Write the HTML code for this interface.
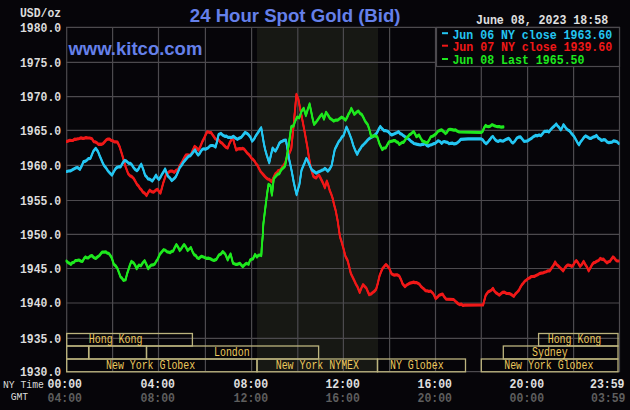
<!DOCTYPE html>
<html><head><meta charset="utf-8"><style>
html,body{margin:0;padding:0;background:#060509;width:630px;height:410px;overflow:hidden}
svg{display:block}
.sm{font-family:"Liberation Mono",monospace;font-size:11.5px}
.xb{font-family:"Liberation Mono",monospace;font-size:12.2px;font-weight:bold}
.mb{font-family:"Liberation Mono",monospace;font-size:13px;font-weight:bold}
.s{font-family:"Liberation Mono",monospace;font-size:12px}
.t{font-family:"Liberation Sans",sans-serif;font-size:18.6px;font-weight:bold}
.k{font-family:"Liberation Sans",sans-serif;font-size:18.5px;font-weight:bold}
</style></head><body>
<svg width="630" height="410" viewBox="0 0 630 410">
<rect x="257" y="27" width="121" height="345" fill="#171814"/>
<line x1="66.7" y1="27" x2="66.7" y2="372" stroke="#4c4a4e" stroke-width="1.2"/>
<line x1="112.6" y1="27" x2="112.6" y2="372" stroke="#4c4a4e" stroke-width="1.2"/>
<line x1="158.5" y1="27" x2="158.5" y2="372" stroke="#4c4a4e" stroke-width="1.2"/>
<line x1="205.4" y1="27" x2="205.4" y2="372" stroke="#4c4a4e" stroke-width="1.2"/>
<line x1="251.6" y1="27" x2="251.6" y2="372" stroke="#4c4a4e" stroke-width="1.2"/>
<line x1="297.8" y1="27" x2="297.8" y2="372" stroke="#4c4a4e" stroke-width="1.2"/>
<line x1="343.4" y1="27" x2="343.4" y2="372" stroke="#4c4a4e" stroke-width="1.2"/>
<line x1="389.6" y1="27" x2="389.6" y2="372" stroke="#4c4a4e" stroke-width="1.2"/>
<line x1="435.5" y1="27" x2="435.5" y2="372" stroke="#4c4a4e" stroke-width="1.2"/>
<line x1="481.3" y1="27" x2="481.3" y2="372" stroke="#4c4a4e" stroke-width="1.2"/>
<line x1="527.6" y1="27" x2="527.6" y2="372" stroke="#4c4a4e" stroke-width="1.2"/>
<line x1="573.6" y1="27" x2="573.6" y2="372" stroke="#4c4a4e" stroke-width="1.2"/>
<line x1="619.5" y1="27" x2="619.5" y2="372" stroke="#4c4a4e" stroke-width="1.2"/>
<line x1="66" y1="27.4" x2="620" y2="27.4" stroke="#4c4a4e" stroke-width="1.2"/>
<line x1="66" y1="62.3" x2="620" y2="62.3" stroke="#4c4a4e" stroke-width="1.2"/>
<line x1="66" y1="96.6" x2="620" y2="96.6" stroke="#4c4a4e" stroke-width="1.2"/>
<line x1="66" y1="130.4" x2="620" y2="130.4" stroke="#4c4a4e" stroke-width="1.2"/>
<line x1="66" y1="165.3" x2="620" y2="165.3" stroke="#4c4a4e" stroke-width="1.2"/>
<line x1="66" y1="200.5" x2="620" y2="200.5" stroke="#4c4a4e" stroke-width="1.2"/>
<line x1="66" y1="234.3" x2="620" y2="234.3" stroke="#4c4a4e" stroke-width="1.2"/>
<line x1="66" y1="268.5" x2="620" y2="268.5" stroke="#4c4a4e" stroke-width="1.2"/>
<line x1="66" y1="303.0" x2="620" y2="303.0" stroke="#4c4a4e" stroke-width="1.2"/>
<line x1="66" y1="338.3" x2="620" y2="338.3" stroke="#4c4a4e" stroke-width="1.2"/>
<line x1="66" y1="371.7" x2="620" y2="371.7" stroke="#4c4a4e" stroke-width="1.2"/>
<text x="20.0" y="17.0" class="mb" fill="#dcdcdc" textLength="41.1" lengthAdjust="spacingAndGlyphs" xml:space="preserve">USD/oz</text>
<text x="20.0" y="31.6" class="mb" fill="#dcdcdc" textLength="41.1" lengthAdjust="spacingAndGlyphs" xml:space="preserve">1980.0</text>
<text x="20.0" y="66.5" class="mb" fill="#dcdcdc" textLength="41.1" lengthAdjust="spacingAndGlyphs" xml:space="preserve">1975.0</text>
<text x="20.0" y="100.8" class="mb" fill="#dcdcdc" textLength="41.1" lengthAdjust="spacingAndGlyphs" xml:space="preserve">1970.0</text>
<text x="20.0" y="134.6" class="mb" fill="#dcdcdc" textLength="41.1" lengthAdjust="spacingAndGlyphs" xml:space="preserve">1965.0</text>
<text x="20.0" y="169.5" class="mb" fill="#dcdcdc" textLength="41.1" lengthAdjust="spacingAndGlyphs" xml:space="preserve">1960.0</text>
<text x="20.0" y="204.7" class="mb" fill="#dcdcdc" textLength="41.1" lengthAdjust="spacingAndGlyphs" xml:space="preserve">1955.0</text>
<text x="20.0" y="238.5" class="mb" fill="#dcdcdc" textLength="41.1" lengthAdjust="spacingAndGlyphs" xml:space="preserve">1950.0</text>
<text x="20.0" y="272.7" class="mb" fill="#dcdcdc" textLength="41.1" lengthAdjust="spacingAndGlyphs" xml:space="preserve">1945.0</text>
<text x="20.0" y="307.2" class="mb" fill="#dcdcdc" textLength="41.1" lengthAdjust="spacingAndGlyphs" xml:space="preserve">1940.0</text>
<text x="20.0" y="342.5" class="mb" fill="#dcdcdc" textLength="41.1" lengthAdjust="spacingAndGlyphs" xml:space="preserve">1935.0</text>
<text x="20.0" y="375.9" class="mb" fill="#dcdcdc" textLength="41.1" lengthAdjust="spacingAndGlyphs" xml:space="preserve">1930.0</text>
<text x="47.5" y="388.0" class="xb" fill="#e0e0e0" textLength="34.5" lengthAdjust="spacingAndGlyphs" xml:space="preserve">00:00</text>
<text x="47.5" y="401.8" class="xb" fill="#5e5e5e" textLength="34.5" lengthAdjust="spacingAndGlyphs" xml:space="preserve">04:00</text>
<text x="140.5" y="388.0" class="xb" fill="#e0e0e0" textLength="34.5" lengthAdjust="spacingAndGlyphs" xml:space="preserve">04:00</text>
<text x="140.5" y="401.8" class="xb" fill="#5e5e5e" textLength="34.5" lengthAdjust="spacingAndGlyphs" xml:space="preserve">08:00</text>
<text x="233.6" y="388.0" class="xb" fill="#e0e0e0" textLength="34.5" lengthAdjust="spacingAndGlyphs" xml:space="preserve">08:00</text>
<text x="233.6" y="401.8" class="xb" fill="#5e5e5e" textLength="34.5" lengthAdjust="spacingAndGlyphs" xml:space="preserve">12:00</text>
<text x="325.4" y="388.0" class="xb" fill="#e0e0e0" textLength="34.5" lengthAdjust="spacingAndGlyphs" xml:space="preserve">12:00</text>
<text x="325.4" y="401.8" class="xb" fill="#5e5e5e" textLength="34.5" lengthAdjust="spacingAndGlyphs" xml:space="preserve">16:00</text>
<text x="417.5" y="388.0" class="xb" fill="#e0e0e0" textLength="34.5" lengthAdjust="spacingAndGlyphs" xml:space="preserve">16:00</text>
<text x="417.5" y="401.8" class="xb" fill="#5e5e5e" textLength="34.5" lengthAdjust="spacingAndGlyphs" xml:space="preserve">20:00</text>
<text x="509.6" y="388.0" class="xb" fill="#e0e0e0" textLength="34.5" lengthAdjust="spacingAndGlyphs" xml:space="preserve">20:00</text>
<text x="509.6" y="401.8" class="xb" fill="#5e5e5e" textLength="34.5" lengthAdjust="spacingAndGlyphs" xml:space="preserve">00:00</text>
<text x="590.0" y="388.0" class="xb" fill="#e0e0e0" textLength="34.5" lengthAdjust="spacingAndGlyphs" xml:space="preserve">23:59</text>
<text x="591.0" y="401.8" class="xb" fill="#5e5e5e" textLength="34.5" lengthAdjust="spacingAndGlyphs" xml:space="preserve">03:59</text>
<text x="3.0" y="388.0" class="sm" fill="#dcdcdc" textLength="40.9" lengthAdjust="spacingAndGlyphs" xml:space="preserve">NY Time</text>
<text x="10.7" y="400.0" class="sm" fill="#dcdcdc" textLength="17.5" lengthAdjust="spacingAndGlyphs" xml:space="preserve">GMT</text>
<rect x="66.7" y="333.5" width="125.7" height="12.5" fill="none" stroke="#bcb47e" stroke-width="1.3"/>
<rect x="538.6" y="333.5" width="79.39999999999998" height="12.5" fill="none" stroke="#bcb47e" stroke-width="1.3"/>
<rect x="66.7" y="346" width="21.89999999999999" height="13" fill="none" stroke="#bcb47e" stroke-width="1.3"/>
<rect x="88.9" y="346" width="57.599999999999994" height="13" fill="none" stroke="#bcb47e" stroke-width="1.3"/>
<rect x="146.5" y="346" width="172.10000000000002" height="13" fill="none" stroke="#bcb47e" stroke-width="1.3"/>
<rect x="503.3" y="346" width="114.69999999999999" height="13" fill="none" stroke="#bcb47e" stroke-width="1.3"/>
<rect x="66.7" y="359" width="190.3" height="12.800000000000011" fill="none" stroke="#bcb47e" stroke-width="1.3"/>
<rect x="257" y="359" width="120.5" height="12.800000000000011" fill="none" stroke="#bcb47e" stroke-width="1.3"/>
<rect x="377.5" y="359" width="88.0" height="12.800000000000011" fill="none" stroke="#bcb47e" stroke-width="1.3"/>
<rect x="481.3" y="359" width="136.7" height="12.800000000000011" fill="none" stroke="#bcb47e" stroke-width="1.3"/>
<text x="88.8" y="343.0" class="s" fill="#ecc85c" textLength="53.6" lengthAdjust="spacingAndGlyphs" xml:space="preserve">Hong Kong</text>
<text x="547.7" y="343.0" class="s" fill="#ecc85c" textLength="53.6" lengthAdjust="spacingAndGlyphs" xml:space="preserve">Hong Kong</text>
<text x="214.0" y="356.2" class="s" fill="#ecc85c" textLength="35.7" lengthAdjust="spacingAndGlyphs" xml:space="preserve">London</text>
<text x="532.0" y="356.2" class="s" fill="#ecc85c" textLength="35.7" lengthAdjust="spacingAndGlyphs" xml:space="preserve">Sydney</text>
<text x="106.0" y="369.0" class="s" fill="#ecc85c" textLength="89.2" lengthAdjust="spacingAndGlyphs" xml:space="preserve">New York Globex</text>
<text x="275.7" y="369.0" class="s" fill="#ecc85c" textLength="83.3" lengthAdjust="spacingAndGlyphs" xml:space="preserve">New York NYMEX</text>
<text x="390.0" y="369.0" class="s" fill="#ecc85c" textLength="53.6" lengthAdjust="spacingAndGlyphs" xml:space="preserve">NY Globex</text>
<text x="504.2" y="369.0" class="s" fill="#ecc85c" textLength="89.2" lengthAdjust="spacingAndGlyphs" xml:space="preserve">New York Globex</text>
<polyline id="lr" points="66.8,141.5 68.4,140.9 69.9,140.3 71.5,140.5 73.1,140.3 74.7,139.1 76.2,139.3 77.8,138.8 79.4,138.5 81.0,137.9 82.6,138.4 84.2,138.3 86.0,137.6 87.9,138.0 89.7,138.0 92.0,138.8 93.7,141.6 95.3,141.9 96.9,142.8 98.5,144.3 100.0,144.2 101.6,144.3 103.2,143.4 104.8,141.6 106.4,139.8 108.0,139.0 109.6,139.2 111.1,140.4 112.7,140.8 114.3,141.9 115.9,141.8 117.5,142.1 119.8,147.2 122.2,155.1 123.8,160.5 125.4,166.2 128.2,173.7 130.0,175.8 131.8,176.6 133.7,178.5 135.5,181.7 137.0,184.4 138.4,185.8 139.9,188.3 141.4,189.7 142.8,192.0 144.7,193.3 146.5,195.6 148.1,192.6 149.7,190.2 151.6,191.6 153.6,192.2 155.6,190.3 157.5,189.3 158.9,191.4 160.4,193.2 161.9,188.0 163.4,182.4 164.9,177.9 166.3,173.7 168.2,172.5 170.2,171.1 172.1,171.1 174.1,172.3 176.1,170.4 178.0,169.8 179.4,166.4 180.9,163.9 182.5,161.2 184.2,157.9 185.8,155.1 187.4,154.8 189.1,155.2 190.7,155.1 192.6,150.6 194.6,146.3 196.6,148.0 198.5,150.2 200.4,146.3 202.4,141.5 204.0,138.5 205.7,134.6 207.3,131.7 209.2,132.3 211.2,132.7 213.1,135.6 215.1,138.5 217.0,139.9 218.9,140.2 220.5,142.2 222.2,143.2 223.8,145.1 225.8,147.2 227.7,148.0 229.3,143.7 231.0,140.4 232.6,136.8 234.4,143.8 236.2,150.0 238.1,148.8 239.9,148.6 241.4,148.8 242.8,148.4 244.3,149.3 245.8,151.2 247.2,153.1 248.7,154.4 250.2,156.2 251.6,158.3 253.1,159.5 254.6,161.2 256.0,163.7 257.5,165.4 258.9,168.4 260.4,171.2 261.9,173.0 263.3,174.6 264.8,176.4 266.3,177.8 267.7,179.0 269.2,179.3 271.6,181.5 273.5,177.6 275.4,173.7 276.8,172.7 278.3,170.6 279.8,170.3 281.2,168.8 283.1,166.1 285.1,162.9 287.8,155.6 289.6,152.8 291.3,148.6 293.5,126.6 294.9,111.0 296.4,94.4 298.3,99.0 300.8,112.0 302.6,121.2 304.5,131.0 305.9,138.9 307.4,147.1 309.0,158.0 311.2,169.3 313.2,176.1 314.6,177.3 316.1,178.0 317.6,175.9 319.0,175.1 320.5,178.0 322.0,181.0 323.4,183.9 324.9,187.8 326.8,181.0 328.3,185.3 329.8,190.7 331.2,194.0 332.7,198.5 334.1,204.7 335.6,210.2 337.7,221.0 339.9,236.4 341.5,241.4 343.2,247.4 345.4,256.2 347.6,260.5 349.2,266.7 350.9,273.7 352.5,276.8 354.2,280.3 355.9,284.1 357.5,286.9 359.7,292.4 361.4,288.0 363.0,284.7 364.6,286.3 366.3,288.0 367.7,291.4 369.1,294.6 371.0,294.0 372.9,292.4 374.5,291.2 376.2,289.1 377.9,283.0 379.5,275.9 381.1,271.7 382.7,268.2 384.4,266.2 386.0,264.5 387.6,266.2 389.3,268.2 391.5,273.7 393.0,274.6 394.4,275.1 395.9,274.8 397.5,274.9 399.2,275.9 400.9,279.3 402.5,283.6 405.0,286.7 406.7,285.0 408.4,284.1 410.1,283.1 411.8,282.7 413.5,282.1 414.9,282.6 416.4,282.6 417.8,283.3 419.5,284.3 421.2,286.7 422.6,287.9 424.1,289.1 425.5,290.6 427.2,290.8 428.9,291.5 430.6,291.0 433.2,293.5 435.7,298.6 437.4,297.2 439.1,295.2 440.8,294.6 442.5,294.0 444.2,296.7 446.0,299.1 453.6,299.5 456.2,302.0 457.9,303.5 459.6,304.6 461.3,304.1 463.0,305.5 464.7,305.1 483.1,305.0 485.7,295.2 488.2,291.8 489.8,291.1 491.4,290.1 493.0,288.4 494.4,291.0 495.9,292.7 497.6,293.8 499.3,295.2 501.0,293.6 502.7,292.3 504.4,292.1 506.2,293.3 507.9,293.5 509.4,293.6 510.8,294.3 512.3,295.3 513.8,296.4 515.5,293.8 517.3,292.0 519.0,290.1 520.4,287.2 521.8,284.9 523.2,283.3 524.9,281.1 526.6,279.9 528.1,278.5 529.6,278.0 531.1,276.7 532.6,276.5 534.3,276.4 536.0,275.5 537.7,274.7 539.4,273.6 541.1,273.2 542.8,273.0 544.5,272.2 546.2,271.7 548.0,270.8 549.7,270.8 552.2,267.2 553.7,265.1 555.1,262.0 556.5,264.5 558.0,265.7 559.7,267.4 561.5,269.1 563.2,270.8 564.6,268.3 566.1,266.4 567.5,265.0 569.0,265.2 570.4,265.6 571.9,266.4 573.4,264.9 574.8,262.1 576.3,260.6 578.1,262.8 580.0,266.4 581.8,264.5 583.6,261.3 585.3,264.5 587.0,267.1 588.7,270.8 590.5,267.6 592.4,264.2 593.9,262.6 595.3,262.3 596.8,261.3 598.6,260.5 600.4,258.4 601.9,259.3 603.4,259.1 605.2,261.2 607.0,262.8 608.5,261.7 610.0,261.3 611.5,258.9 612.9,256.9 614.3,258.0 615.8,260.1 617.2,260.9 618.7,261.0" fill="none" stroke="#f01818" stroke-width="1.7" stroke-linejoin="round" stroke-linecap="round"/>
<use href="#lr" transform="translate(0,-0.75)"/>
<use href="#lr" transform="translate(0,0.75)"/>
<polyline id="lc" points="66.8,171.5 68.5,171.0 70.3,170.9 72.0,170.0 73.8,168.9 75.7,167.9 77.5,167.5 79.9,169.4 81.7,166.0 83.5,161.7 85.1,161.4 86.8,160.2 88.4,158.7 90.5,158.3 93.3,151.3 95.7,148.3 98.0,151.5 99.5,155.4 101.0,158.9 102.5,162.3 104.0,165.5 106.0,167.9 108.0,171.0 110.0,173.1 112.0,175.1 113.8,171.6 115.7,168.5 117.3,167.3 119.0,166.7 120.6,166.8 122.5,163.3 124.5,160.5 126.0,160.9 127.5,162.2 128.9,163.3 130.4,163.4 132.1,165.2 133.7,167.7 135.3,169.6 137.0,170.7 138.4,169.2 139.9,166.2 141.3,164.2 143.2,169.3 145.0,175.1 146.4,176.6 147.9,178.8 149.4,179.1 150.8,179.9 152.3,181.0 154.2,178.2 156.0,175.1 157.4,177.9 158.9,179.5 160.4,177.3 162.0,174.2 163.6,171.8 165.1,168.9 166.6,173.0 168.0,176.2 169.8,177.8 171.7,180.6 173.2,179.4 174.6,178.2 176.1,176.2 177.9,172.2 179.8,167.5 181.6,165.3 183.4,162.3 185.2,160.1 187.1,157.9 188.6,156.2 190.0,155.9 191.5,154.3 193.3,151.9 195.1,149.9 196.6,152.9 198.1,155.0 199.6,153.7 201.0,151.0 202.5,149.2 204.0,148.8 205.4,149.3 206.9,148.4 208.3,147.7 209.8,146.0 211.2,145.5 212.7,145.5 214.1,146.0 215.6,147.0 217.1,141.3 218.6,134.5 220.9,133.4 222.9,135.3 224.8,136.3 226.4,136.1 228.0,137.4 229.6,137.3 231.6,137.5 233.5,136.3 235.4,138.0 237.4,139.3 239.4,138.1 241.3,137.3 243.2,134.9 245.2,132.4 247.1,133.4 249.1,135.4 250.6,137.6 252.1,141.2 254.1,139.0 256.0,135.4 257.7,133.0 259.5,130.2 261.2,127.6 263.8,143.2 265.2,149.7 266.7,154.9 269.2,162.7 270.9,155.3 272.6,148.0 274.1,150.0 275.5,151.0 277.4,147.6 279.4,143.2 280.9,141.8 282.3,141.2 284.1,140.3 285.9,140.0 287.4,148.5 288.8,157.6 290.2,164.0 291.7,171.2 293.7,182.0 295.1,188.4 296.6,194.6 298.1,188.9 299.5,183.9 301.5,170.2 302.9,166.7 304.4,163.4 306.3,158.5 307.8,160.9 309.3,164.4 310.8,167.9 312.2,170.2 314.1,171.5 316.1,173.2 318.1,172.1 320.0,171.2 321.6,170.4 323.3,169.8 324.9,168.3 326.4,169.6 327.8,171.2 329.8,168.9 331.7,165.4 333.2,157.4 334.8,149.4 336.8,145.5 338.7,141.6 340.3,139.7 341.9,137.0 343.5,135.7 345.0,131.3 346.5,127.0 347.9,130.0 349.4,133.8 351.4,139.0 353.3,145.5 355.2,150.3 357.2,154.3 358.7,151.1 360.3,148.8 361.8,146.1 363.2,145.0 364.7,143.3 366.1,141.8 367.8,139.9 369.5,138.4 370.9,137.6 372.4,136.7 373.8,135.8 375.5,134.5 377.2,132.4 378.8,128.9 380.3,126.5 382.1,128.7 384.0,130.7 385.4,130.6 386.9,131.0 388.3,131.6 390.0,133.7 391.7,135.0 393.4,134.2 395.1,133.4 396.8,132.8 398.5,131.6 400.2,133.6 401.9,134.3 403.6,135.8 405.0,136.8 406.5,137.5 407.9,138.4 409.4,139.7 410.9,141.2 412.4,142.2 413.9,143.5 415.6,143.9 417.3,144.3 419.0,144.7 420.5,145.0 422.0,144.4 423.5,144.3 425.0,143.5 426.7,145.4 428.4,146.1 430.2,145.0 431.9,144.6 433.7,143.7 435.1,143.4 436.6,142.2 438.0,140.8 439.9,141.5 441.7,143.3 443.1,141.9 444.6,141.5 446.1,142.2 447.5,142.4 449.0,143.7 450.6,143.3 452.3,143.1 454.0,143.9 455.6,143.7 457.3,142.7 459.0,141.4 460.7,139.4 468.0,138.9 481.2,138.9 482.9,140.0 484.6,142.4 486.3,143.7 488.1,141.8 490.0,139.4 491.4,137.4 492.9,136.4 494.7,139.1 496.5,140.8 498.2,141.5 499.9,140.4 501.6,140.8 503.3,141.1 505.0,140.1 506.9,139.1 508.7,138.3 510.1,139.8 511.6,142.1 513.0,143.0 514.9,141.1 516.7,138.3 518.5,137.1 520.4,136.9 522.2,139.0 524.0,141.3 525.9,141.1 527.7,140.8 529.5,139.5 531.3,138.6 532.8,137.1 534.2,136.2 535.7,135.4 537.4,135.8 539.1,134.9 540.8,135.7 542.6,133.6 544.5,131.3 546.0,131.4 547.4,131.1 548.9,132.0 550.7,129.6 552.5,127.7 554.4,126.0 556.2,124.0 557.7,126.0 559.1,127.3 560.6,129.9 562.0,128.0 563.5,124.7 565.0,126.8 566.4,128.8 567.9,129.9 569.4,130.8 570.8,132.6 572.3,134.4 574.1,136.5 576.0,139.9 577.5,142.7 579.0,144.8 580.5,142.0 582.1,139.9 583.9,137.4 585.7,135.9 587.5,137.0 589.4,138.3 591.2,138.3 593.0,137.1 594.8,136.7 596.5,135.4 598.5,138.3 600.0,139.1 601.6,140.5 603.4,139.7 605.2,139.9 607.0,141.9 608.9,142.7 610.4,142.4 612.0,142.2 613.5,140.9 615.0,141.1 616.9,141.7 618.7,143.5" fill="none" stroke="#24c6f2" stroke-width="1.7" stroke-linejoin="round" stroke-linecap="round"/>
<use href="#lc" transform="translate(0,-0.75)"/>
<use href="#lc" transform="translate(0,0.75)"/>
<polyline id="lg" points="66.4,261.0 67.9,262.4 69.3,263.2 70.8,264.4 72.3,262.6 73.7,262.5 75.2,260.7 77.0,260.5 78.8,260.0 80.7,261.1 82.5,261.4 84.0,258.6 85.4,257.0 86.8,257.9 88.3,257.8 90.2,256.1 92.0,255.6 93.8,257.6 95.6,258.5 97.4,257.0 99.3,255.6 100.8,253.7 102.2,252.2 104.1,252.1 105.9,251.9 107.3,253.2 108.8,253.4 110.2,255.3 111.7,257.8 113.9,264.4 115.8,266.0 117.6,268.7 119.0,272.8 120.5,276.8 122.0,278.2 123.4,280.4 125.6,279.7 127.0,274.1 128.5,269.5 129.9,265.0 131.4,261.4 133.6,262.9 135.1,265.2 136.6,268.7 138.8,265.1 140.9,265.8 142.8,262.8 144.6,260.7 146.4,264.4 148.2,268.7 149.7,266.6 151.2,265.1 153.0,264.9 154.8,263.9 156.2,261.3 157.7,259.2 159.9,254.1 161.8,251.9 163.6,249.7 165.4,250.3 167.2,251.9 168.7,252.1 170.2,252.7 171.6,251.3 173.1,251.2 174.7,247.6 176.3,244.6 178.0,246.9 179.7,250.5 181.2,248.9 182.6,246.6 184.1,244.6 185.9,247.1 187.7,250.5 189.3,249.0 190.9,247.5 192.6,251.8 194.3,254.9 195.8,255.5 197.2,257.7 198.7,258.5 200.1,257.3 201.6,256.3 203.4,257.0 205.3,257.8 206.7,258.5 208.2,258.1 209.6,258.5 211.1,259.1 212.5,260.0 214.0,260.4 216.4,259.4 218.9,255.0 220.9,254.0 222.8,251.6 225.2,254.0 227.7,259.9 229.1,256.7 230.6,254.0 233.0,263.3 235.5,264.3 237.0,264.4 238.4,263.9 239.9,263.3 241.4,265.2 242.8,266.7 244.5,264.9 246.2,263.3 248.6,264.3 250.1,259.9 251.6,259.2 253.0,258.9 255.0,254.5 256.9,257.0 258.4,255.4 259.9,255.0 261.3,255.5 261.8,246.7 262.8,235.0 263.3,224.4 265.2,208.8 267.2,193.2 268.5,184.4 270.5,185.4 271.9,195.1 273.8,178.5 276.3,175.6 277.8,174.1 279.3,173.7 280.8,170.6 282.2,168.8 283.6,167.7 285.1,165.9 286.8,156.2 288.4,147.1 289.9,136.4 291.3,126.6 293.5,125.9 295.0,121.5 297.1,117.1 299.3,117.8 301.5,111.2 303.7,108.3 305.9,115.6 307.8,109.2 309.6,103.9 311.1,111.2 312.5,118.1 314.0,124.4 315.8,122.4 317.6,120.0 319.1,117.8 320.5,115.8 322.0,114.2 324.0,119.1 326.0,112.3 327.9,115.0 329.9,118.2 331.9,119.6 333.8,121.1 335.8,120.1 337.7,120.1 339.6,118.6 341.6,117.2 343.6,118.3 345.5,120.1 346.9,117.8 348.4,114.3 349.9,112.0 351.3,108.4 352.8,111.4 354.3,114.3 356.4,112.3 358.4,111.1 360.1,113.5 361.8,114.5 363.5,117.6 365.2,121.3 367.8,124.7 369.5,129.9 371.2,136.7 372.9,136.0 374.6,135.8 377.2,136.7 379.7,144.4 382.3,149.5 384.0,148.0 385.7,147.8 387.4,144.6 389.1,141.8 390.6,141.5 392.1,141.2 393.6,140.5 395.1,140.6 396.5,141.9 398.0,142.4 399.4,144.4 400.8,143.4 402.2,142.4 403.6,142.3 405.0,140.3 406.5,137.9 407.9,136.7 409.4,134.8 410.9,133.9 412.4,132.5 413.9,131.6 416.4,136.7 419.0,135.0 420.7,138.1 422.4,141.0 424.1,141.6 425.8,142.5 427.5,142.7 429.2,139.9 430.9,136.7 432.6,136.2 434.4,135.0 436.2,133.7 438.0,131.3 439.9,130.4 441.7,129.9 443.5,131.5 445.4,133.5 446.9,132.4 448.3,129.9 450.1,129.3 451.9,129.6 453.8,130.1 455.6,129.9 457.4,131.2 459.2,132.0 481.2,132.5 482.6,131.3 484.1,127.8 485.6,125.5 487.1,126.5 488.5,126.6 490.3,126.2 492.1,124.7 494.0,125.6 495.8,126.2 497.6,126.7 499.4,126.6 501.4,127.2 503.5,126.9" fill="none" stroke="#1ee81e" stroke-width="1.7" stroke-linejoin="round" stroke-linecap="round"/>
<use href="#lg" transform="translate(0,-0.75)"/>
<use href="#lg" transform="translate(0,0.75)"/>
<rect x="436.5" y="27.5" width="183" height="39" fill="#060509" stroke="#4c4a4e" stroke-width="1.2"/>
<rect x="442" y="32.2" width="6" height="2" fill="#24c6f2"/>
<rect x="442" y="44.7" width="6" height="2" fill="#f01818"/>
<rect x="442" y="58" width="6" height="2" fill="#1ee81e"/>
<text x="452.4" y="38.9" class="mb" fill="#24c6f2" textLength="159.8" lengthAdjust="spacingAndGlyphs" xml:space="preserve">Jun 06 NY close 1963.60</text>
<text x="452.4" y="50.8" class="mb" fill="#f01818" textLength="159.8" lengthAdjust="spacingAndGlyphs" xml:space="preserve">Jun 07 NY close 1939.60</text>
<text x="452.4" y="64.2" class="mb" fill="#1ee81e" textLength="132.1" lengthAdjust="spacingAndGlyphs" xml:space="preserve">Jun 08 Last 1965.50</text>
<text x="476.0" y="24.3" class="mb" fill="#e0e0e0" textLength="132.1" lengthAdjust="spacingAndGlyphs" xml:space="preserve">June 08, 2023 18:58</text>
<text x="189.8" y="22" class="t" fill="#6580ea">24 Hour Spot Gold (Bid)</text>
<text x="68.4" y="55" class="k" fill="#6580ea">www.kitco.com</text>
</svg>
</body></html>
